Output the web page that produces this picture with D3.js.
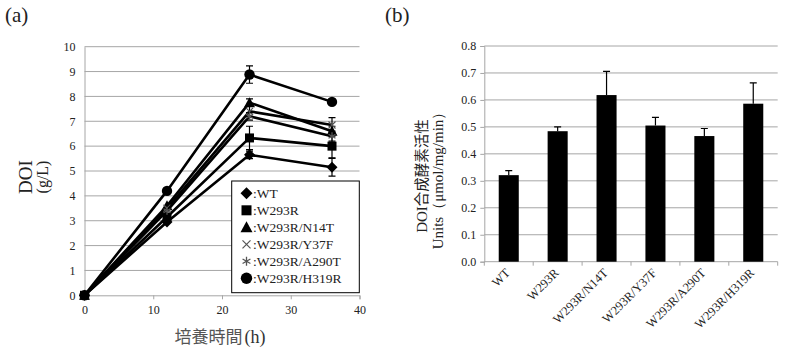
<!DOCTYPE html>
<html>
<head>
<meta charset="utf-8">
<script src="https://cdn.jsdelivr.net/npm/d3@7"></script>
<style>
  body { margin: 0; background: #fff; }
  svg { display: block; }
  text { font-family: "Liberation Serif", "Times New Roman", serif; fill: #222; }
</style>
</head>
<body>
<svg id="chart" width="786" height="350"></svg>
<script>
// panel (a): DOI production over time
var hours = [0, 12, 24, 36];
var seriesNames = ['WT', 'W293R', 'W293R/N14T', 'W293R/Y37F', 'W293R/A290T', 'W293R/H319R'];
var seriesMarkers = ['diamond', 'square', 'triangle', 'x', 'star', 'circle'];
var doiWT = [0, 2.95, 5.65, 5.15];
var doiW293R = [0, 3.15, 6.33, 6.0];
var doiN14T = [0, 3.6, 7.75, 6.6];
var doiY37F = [0, 3.5, 7.4, 6.85];
var doiA290T = [0, 3.4, 7.2, 6.4];
var doiH319R = [0, 4.2, 8.88, 7.78];
var errWT = [0, 0.1, 0.15, 0.36];
var errW293R = [0, 0.1, 0.47, 0.47];
var errN14T = [0, 0.1, 0.15, 0.2];
var errY37F = [0, 0.1, 0.2, 0.3];
var errA290T = [0, 0.1, 0.15, 0.2];
var errH319R = [0, 0.1, 0.35, 0.1];
var xTicksA = [0, 10, 20, 30, 40];
var yTicksA = [0, 1, 2, 3, 4, 5, 6, 7, 8, 9, 10];

// panel (b): enzyme activity
var enzymes = ['WT', 'W293R', 'W293R/N14T', 'W293R/Y37F', 'W293R/A290T', 'W293R/H319R'];
var activity = [0.321, 0.484, 0.618, 0.505, 0.466, 0.586];
var activityErr = [0.017, 0.016, 0.088, 0.03, 0.028, 0.077];
var yTicksB = [0, 0.1, 0.2, 0.3, 0.4, 0.5, 0.6, 0.7, 0.8];

var serif = '"Liberation Serif", "Times New Roman", serif';
var svg = d3.select('#chart');
var gridColor = '#a6a6a6';

function marker(g, type, cx, cy, s) {
  var h = s / 2;
  if (type === 'diamond') {
    g.append('path').attr('d', `M${cx},${cy - h - 1}L${cx + h + 1},${cy}L${cx},${cy + h + 1}L${cx - h - 1},${cy}Z`).attr('fill', '#000');
  } else if (type === 'square') {
    g.append('rect').attr('x', cx - h).attr('y', cy - h).attr('width', s).attr('height', s).attr('fill', '#000');
  } else if (type === 'triangle') {
    g.append('path').attr('d', `M${cx},${cy - h - 1}L${cx + h + 1},${cy + h}L${cx - h - 1},${cy + h}Z`).attr('fill', '#000');
  } else if (type === 'circle') {
    g.append('circle').attr('cx', cx).attr('cy', cy).attr('r', h + 0.7).attr('fill', '#000');
  } else if (type === 'x') {
    var k = h - 1;
    g.append('path').attr('d', `M${cx - k},${cy - k}L${cx + k},${cy + k}M${cx - k},${cy + k}L${cx + k},${cy - k}`)
      .attr('stroke', '#555').attr('stroke-width', 1.2).attr('fill', 'none');
  } else if (type === 'star') {
    var r = h - 0.5, a = r * 0.87, b = r * 0.5;
    g.append('path').attr('d', `M${cx},${cy - r}L${cx},${cy + r}M${cx - a},${cy - b}L${cx + a},${cy + b}M${cx - a},${cy + b}L${cx + a},${cy - b}`)
      .attr('stroke', '#555').attr('stroke-width', 1.3).attr('fill', 'none');
  }
}

// ---------- panel (a) ----------
var xA = d3.scaleLinear().domain([0, 40]).range([84.5, 359.5]);
var yA = d3.scaleLinear().domain([0, 10]).range([295.3, 46.7]);
var gA = svg.append('g');

gA.append('g').selectAll('line').data(yTicksA.slice(1)).enter().append('line')
  .attr('x1', xA(0)).attr('x2', xA(40))
  .attr('y1', d => yA(d)).attr('y2', d => yA(d))
  .attr('stroke', gridColor).attr('stroke-width', 1);

var xAxisA = gA.append('g').attr('transform', `translate(0,${yA(0)})`)
  .call(d3.axisBottom(xA).tickValues(xTicksA).tickSize(4).tickPadding(6));
var yAxisA = gA.append('g').attr('transform', `translate(${xA(0)},0)`)
  .call(d3.axisLeft(yA).tickValues(yTicksA).tickSize(0).tickPadding(9));
[xAxisA, yAxisA].forEach(function(ax) {
  ax.attr('font-family', serif).attr('font-size', 12);
  ax.select('.domain').attr('stroke', gridColor);
  ax.selectAll('.tick line').attr('stroke', gridColor);
  ax.selectAll('.tick text').attr('fill', '#111');
});

var seriesData = [doiWT, doiW293R, doiN14T, doiY37F, doiA290T, doiH319R];
var seriesErr = [errWT, errW293R, errN14T, errY37F, errA290T, errH319R];
var line = d3.line().x((d, i) => xA(hours[i])).y(d => yA(d));

seriesData.forEach(function(vals, si) {
  var g = gA.append('g');
  // error bars
  vals.forEach(function(v, i) {
    var e = seriesErr[si][i];
    if (e < 0.12) return;
    var x = xA(hours[i]);
    g.append('path')
      .attr('d', `M${x},${yA(v - e)}L${x},${yA(v + e)}M${x - 3.5},${yA(v - e)}L${x + 3.5},${yA(v - e)}M${x - 3.5},${yA(v + e)}L${x + 3.5},${yA(v + e)}`)
      .attr('stroke', '#000').attr('stroke-width', 1.2).attr('fill', 'none');
  });
  g.append('path').datum(vals).attr('d', line)
    .attr('fill', 'none').attr('stroke', '#000').attr('stroke-width', 2.6).attr('stroke-linejoin', 'round');
  vals.forEach(function(v, i) {
    marker(g, seriesMarkers[si], xA(hours[i]), yA(v), 9);
  });
});

// legend
var legend = gA.append('g');
legend.append('rect').attr('x', 231.7).attr('y', 181).attr('width', 127.6).attr('height', 111.7)
  .attr('fill', '#fff').attr('stroke', '#000').attr('stroke-width', 1);
seriesNames.forEach(function(name, i) {
  var cy = 193.3 + i * 17;
  marker(legend, seriesMarkers[i], 246.5, cy, 10);
  legend.append('text').attr('x', 253).attr('y', cy + 4.5).attr('font-family', serif)
    .style('font-size', '13.5px').attr('fill', '#111').text(':' + name);
});

// titles
gA.append('text').attr('x', 5).attr('y', 22).style('font-size', '21px').attr('fill', '#111').text('(a)');
gA.append('text').attr('transform', 'translate(32,177) rotate(-90)').attr('text-anchor', 'middle')
  .style('font-size', '19px').attr('fill', '#333').text('DOI');
gA.append('text').attr('transform', 'translate(48,177) rotate(-90)').attr('text-anchor', 'middle')
  .style('font-size', '16px').attr('fill', '#333').text('(g/L)');
var xt = gA.append('text').attr('x', 220).attr('y', 343).attr('text-anchor', 'middle').attr('fill', '#444');
xt.append('tspan').style('font-family', '"Noto Sans CJK JP", sans-serif').style('font-size', '17px').attr('fill', '#555').text('培養時間');
xt.append('tspan').attr('dx', 2).style('font-size', '18px').attr('fill', '#333').text('(h)');

// ---------- panel (b) ----------
var xB = d3.scaleBand().domain(enzymes).range([484.3, 777.7]).paddingInner(0).paddingOuter(0);
var yB = d3.scaleLinear().domain([0, 0.8]).range([261.7, 46]);
var gB = svg.append('g');

gB.append('g').selectAll('line').data(yTicksB.slice(1)).enter().append('line')
  .attr('x1', xB.range()[0]).attr('x2', xB.range()[1])
  .attr('y1', d => yB(d)).attr('y2', d => yB(d))
  .attr('stroke', gridColor).attr('stroke-width', 1);

var yAxisB = gB.append('g').attr('transform', `translate(${xB.range()[0]},0)`)
  .call(d3.axisLeft(yB).tickValues(yTicksB).tickFormat(d3.format('.1f')).tickSize(4).tickPadding(4));
yAxisB.attr('font-family', serif).attr('font-size', 12);
yAxisB.select('.domain').attr('stroke', gridColor);
yAxisB.selectAll('.tick line').attr('stroke', gridColor);
yAxisB.selectAll('.tick text').attr('fill', '#111');

// x axis line with ticks at band boundaries
var xAxisB = gB.append('g');
xAxisB.append('line').attr('x1', xB.range()[0]).attr('x2', xB.range()[1])
  .attr('y1', yB(0)).attr('y2', yB(0)).attr('stroke', gridColor);
xAxisB.selectAll('.bt').data(enzymes.concat([null])).enter().append('line')
  .attr('x1', d => d === null ? xB.range()[1] : xB(d))
  .attr('x2', d => d === null ? xB.range()[1] : xB(d))
  .attr('y1', yB(0)).attr('y2', yB(0) + 4).attr('stroke', gridColor);

var barW = xB.bandwidth() * 0.41;
enzymes.forEach(function(name, i) {
  var cx = xB(name) + xB.bandwidth() / 2;
  var top = yB(activity[i] + activityErr[i]);
  gB.append('path')
    .attr('d', `M${cx},${yB(activity[i])}L${cx},${top}M${cx - 3.5},${top}L${cx + 3.5},${top}`)
    .attr('stroke', '#000').attr('stroke-width', 1.2);
  gB.append('rect').attr('x', cx - barW / 2).attr('y', yB(activity[i]))
    .attr('width', barW).attr('height', yB(0) - yB(activity[i])).attr('fill', '#000');
  gB.append('text')
    .attr('transform', `translate(${cx + 2},${yB(0) + 12}) rotate(-45)`)
    .attr('text-anchor', 'end').style('font-size', '12.5px').attr('fill', '#111').text(name);
});

gB.append('text').attr('x', 385).attr('y', 22).style('font-size', '21px').attr('fill', '#111').text('(b)');
var t1 = gB.append('text').attr('transform', 'translate(427,176) rotate(-90)').attr('text-anchor', 'middle')
  .style('font-size', '15px').attr('fill', '#333');
t1.append('tspan').text('DOI');
t1.append('tspan').style('font-family', '"Noto Sans CJK JP", sans-serif').style('font-size', '14.5px').text('合成酵素活性');
gB.append('text').attr('transform', 'translate(443,177) rotate(-90)').attr('text-anchor', 'middle')
  .style('font-size', '15px').attr('fill', '#333').text('Units（μmol/mg/min）');
</script>
</body>
</html>
